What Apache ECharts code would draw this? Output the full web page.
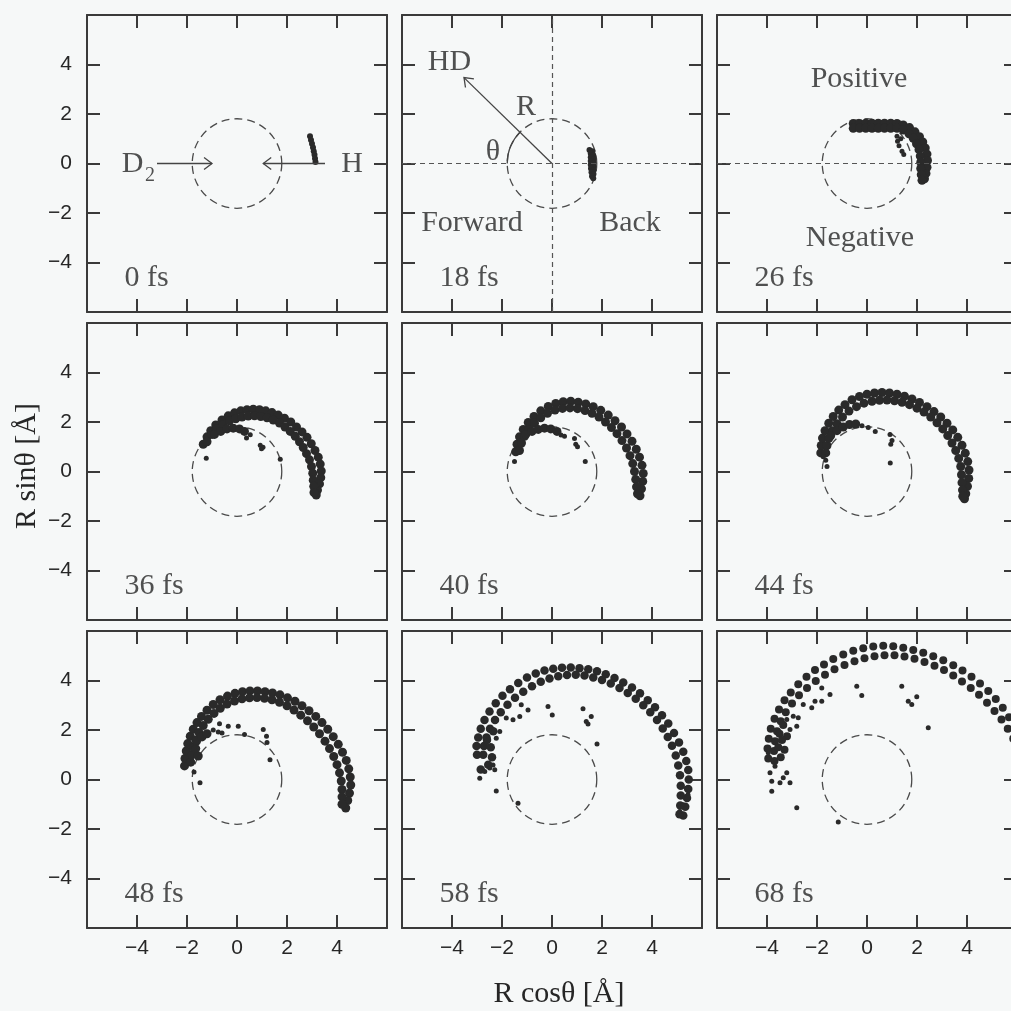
<!DOCTYPE html>
<html>
<head>
<meta charset="utf-8">
<script src="https://cdn.jsdelivr.net/npm/echarts@6/dist/echarts.min.js"></script>
<style>
html,body{margin:0;padding:0;background:#f6f8f8;}
#chart{width:1011px;height:1011px;}
</style>
</head>
<body>
<div id="chart"></div>
<script>
// ---------------- data ----------------
const panelLabels = ['0 fs','18 fs','26 fs','36 fs','40 fs','44 fs','48 fs','58 fs','68 fs'];
const axisMin = -6, axisMax = 6, axisStep = 2;
const tickLabels = {'-4':'\u22124','-2':'\u22122','0':'0','2':'2','4':'4'};
const circleR = 1.8;
const thetaArc = [135, 180]; // degrees, angle mark in the 18 fs panel

const band_0 = [[2.92,1.1],[2.96,0.95],[3.0,0.8],[3.04,0.65],[3.07,0.5],[3.1,0.35],[3.12,0.2],[3.14,0.06]];
const band_18 = [[1.5,0.55],[1.62,0.5],[1.55,0.4],[1.65,0.33],[1.55,0.25],[1.66,0.18],[1.55,0.1],[1.66,0.03],[1.55,-0.05],[1.66,-0.12],[1.56,-0.2],[1.66,-0.27],[1.58,-0.35],[1.66,-0.42],[1.6,-0.52],[1.65,-0.6]];

const band_26 = [[-0.55,1.62],[-0.3,1.62],[-0.05,1.63],[0.2,1.63],[0.45,1.63],[0.7,1.63],[0.95,1.63],
 [-0.55,1.42],[-0.3,1.42],[-0.05,1.42],[0.2,1.42],[0.45,1.42],[0.7,1.42],[0.95,1.42],
 [1.2,1.62],[1.45,1.56],[1.7,1.45],[1.92,1.28],[2.1,1.08],[2.23,0.87],[2.33,0.63],[2.4,0.38],[2.42,0.12],[2.4,-0.15],[2.36,-0.4],[2.3,-0.62],
 [1.2,1.42],[1.45,1.35],[1.68,1.2],[1.85,1.02],[1.98,0.8],[2.08,0.56],[2.13,0.3],[2.15,0.05],[2.15,-0.2],[2.17,-0.45],[2.2,-0.68]];
const sparse_26 = [[1.2,1.1],[1.22,0.9],[1.28,0.72],[1.4,0.5],[1.47,0.36],[1.35,1.0]];

const band_36 = [[-1.35,1.1],[-1.2,1.4],[-1.05,1.65],[-0.85,1.88],[-0.6,2.08],[-0.35,2.25],[-0.1,2.37],[0.15,2.45],[0.4,2.5],[0.65,2.52],[0.9,2.5],[1.15,2.45],[1.4,2.38],[1.65,2.28],[1.9,2.15],[2.15,2.0],[2.38,1.8],[2.6,1.6],[2.8,1.38],[2.97,1.12],[3.12,0.85],[3.25,0.58],[3.33,0.3],[3.37,0.02],[3.35,-0.25],[3.3,-0.5],[3.22,-0.75],[3.17,-0.95],
 [-1.2,1.2],[-1.0,1.5],[-0.8,1.72],[-0.55,1.9],[-0.3,2.05],[-0.05,2.13],[0.2,2.2],[0.45,2.24],[0.7,2.25],[0.95,2.22],[1.2,2.17],[1.45,2.08],[1.7,1.96],[1.92,1.8],[2.13,1.62],[2.33,1.42],[2.5,1.2],[2.65,0.97],[2.78,0.72],[2.9,0.47],[2.98,0.2],[3.03,-0.07],[3.05,-0.35],[3.07,-0.6],[3.08,-0.85],
 [-0.9,1.5],[-0.65,1.62],[-0.4,1.72],[-0.15,1.75],[0.1,1.72],[0.3,1.62]];
const sparse_36 = [[0.53,1.48],[0.38,1.35],[0.93,1.06],[1.04,0.98],[0.98,0.92],[1.73,0.5],[-1.23,0.54]];

const band_40 = [[-1.45,0.8],[-1.4,1.1],[-1.3,1.4],[-1.15,1.7],[-0.95,1.98],[-0.72,2.22],[-0.45,2.45],[-0.15,2.63],[0.15,2.75],[0.45,2.82],[0.75,2.84],[1.05,2.8],[1.35,2.73],[1.65,2.62],[1.95,2.47],[2.25,2.28],[2.52,2.05],[2.78,1.8],[3.0,1.52],[3.2,1.22],[3.37,0.9],[3.5,0.58],[3.6,0.25],[3.65,-0.08],[3.63,-0.4],[3.58,-0.7],[3.52,-0.98],
 [-1.3,0.85],[-1.22,1.15],[-1.1,1.42],[-0.92,1.7],[-0.7,1.95],[-0.45,2.17],[-0.18,2.35],[0.12,2.48],[0.42,2.55],[0.72,2.57],[1.02,2.54],[1.32,2.46],[1.6,2.35],[1.88,2.2],[2.14,2.0],[2.38,1.78],[2.6,1.53],[2.8,1.25],[2.98,0.95],[3.12,0.64],[3.23,0.32],[3.3,0.0],[3.35,-0.32],[3.38,-0.62],[3.42,-0.9],
 [-1.05,1.5],[-0.8,1.62],[-0.55,1.7],[-0.3,1.75],[-0.05,1.72],[0.2,1.62]];
const sparse_40 = [[0.36,1.47],[0.5,1.42],[0.9,1.33],[0.95,1.1],[1.02,1.0],[-1.5,0.4],[1.33,0.4]];

const band_44 = [[-1.85,0.75],[-1.83,1.05],[-1.78,1.35],[-1.68,1.65],[-1.53,1.95],[-1.35,2.22],[-1.13,2.48],[-0.88,2.7],[-0.6,2.9],[-0.3,3.03],[0.0,3.12],[0.3,3.17],[0.6,3.19],[0.9,3.17],[1.2,3.12],[1.5,3.04],[1.8,2.93],[2.1,2.79],[2.4,2.62],[2.68,2.42],[2.95,2.2],[3.2,1.95],[3.43,1.68],[3.63,1.38],[3.8,1.06],[3.93,0.74],[4.03,0.4],[4.08,0.06],[4.07,-0.28],[4.02,-0.6],[3.95,-0.9],[3.9,-1.1],
 [-1.65,0.75],[-1.6,1.05],[-1.52,1.35],[-1.38,1.65],[-1.2,1.93],[-0.98,2.2],[-0.72,2.44],[-0.42,2.62],[-0.12,2.76],[0.2,2.84],[0.5,2.88],[0.8,2.89],[1.1,2.86],[1.4,2.8],[1.7,2.7],[2.0,2.56],[2.28,2.4],[2.55,2.2],[2.8,1.97],[3.03,1.72],[3.23,1.45],[3.4,1.15],[3.55,0.85],[3.67,0.53],[3.75,0.2],[3.78,-0.13],[3.8,-0.45],[3.82,-0.75],[3.83,-1.0],
 [-1.45,1.45],[-1.2,1.65],[-0.95,1.8],[-0.7,1.9],[-0.45,1.92]];
const sparse_44 = [[-0.2,1.85],[0.05,1.78],[0.33,1.62],[0.92,1.5],[1.0,1.25],[0.95,1.1],[0.93,0.34],[-1.65,0.45],[-1.6,0.2],[-1.75,0.6]];

const band_48 = [[-2.1,0.55],[-2.08,0.85],[-2.03,1.15],[-1.97,1.45],[-1.87,1.75],[-1.75,2.03],[-1.6,2.3],[-1.42,2.55],[-1.2,2.8],[-0.95,3.03],[-0.68,3.22],[-0.38,3.37],[-0.08,3.48],[0.22,3.55],[0.52,3.58],[0.82,3.58],[1.12,3.55],[1.42,3.5],[1.72,3.42],[2.02,3.3],[2.32,3.16],[2.6,2.98],[2.88,2.78],[3.15,2.55],[3.4,2.3],[3.63,2.03],[3.85,1.73],[4.05,1.42],[4.22,1.1],[4.37,0.77],[4.47,0.43],[4.53,0.1],[4.55,-0.22],[4.5,-0.55],[4.43,-0.85],[4.35,-1.15],
 [-1.85,0.7],[-1.8,1.0],[-1.75,1.3],[-1.65,1.6],[-1.52,1.9],[-1.35,2.18],[-1.15,2.43],[-0.92,2.67],[-0.67,2.88],[-0.4,3.05],[-0.1,3.17],[0.2,3.26],[0.5,3.3],[0.8,3.31],[1.1,3.28],[1.4,3.22],[1.7,3.12],[2.0,2.98],[2.28,2.81],[2.55,2.6],[2.82,2.37],[3.07,2.12],[3.3,1.85],[3.52,1.55],[3.7,1.25],[3.87,0.93],[4.0,0.6],[4.1,0.27],[4.17,-0.06],[4.2,-0.4],[4.2,-0.7],[4.2,-1.0],
 [-1.62,1.55],[-1.4,1.72],[-1.2,1.85],[-1.65,1.25],[-1.55,0.95]];
const sparse_48 = [[-0.95,2.0],[-0.75,1.92],[-0.7,2.25],[-0.6,1.88],[-0.35,2.15],[0.05,2.15],[0.3,1.82],[1.05,2.02],[1.18,1.75],[1.2,1.5],[1.32,0.8],[-1.72,0.3],[-1.48,-0.13]];

const band_58 = [[-3.0,1.0],[-3.02,1.35],[-2.95,1.7],[-2.85,2.05],[-2.7,2.4],[-2.5,2.75],[-2.25,3.08],[-1.98,3.38],[-1.68,3.65],[-1.35,3.9],[-1.0,4.12],[-0.65,4.28],[-0.3,4.4],[0.05,4.47],[0.4,4.52],[0.75,4.53],[1.1,4.5],[1.45,4.45],[1.8,4.37],[2.15,4.25],[2.5,4.1],[2.85,3.92],[3.2,3.72],[3.52,3.48],[3.83,3.2],[4.12,2.92],[4.4,2.6],[4.65,2.26],[4.88,1.88],[5.08,1.5],[5.25,1.12],[5.37,0.75],[5.45,0.38],[5.47,0.0],[5.45,-0.38],[5.4,-0.75],[5.33,-1.1],[5.25,-1.45],
 [-2.75,1.0],[-2.72,1.35],[-2.62,1.7],[-2.48,2.05],[-2.28,2.4],[-2.05,2.72],[-1.78,3.02],[-1.48,3.3],[-1.15,3.55],[-0.8,3.77],[-0.45,3.95],[-0.1,4.08],[0.25,4.17],[0.6,4.22],[0.95,4.23],[1.3,4.2],[1.65,4.12],[2.0,4.02],[2.35,3.88],[2.7,3.7],[3.03,3.5],[3.35,3.26],[3.65,3.0],[3.93,2.72],[4.2,2.4],[4.43,2.06],[4.63,1.72],[4.8,1.36],[4.95,0.97],[5.05,0.57],[5.12,0.17],[5.15,-0.25],[5.15,-0.65],[5.13,-1.05],[5.1,-1.4],
 [-2.45,1.3],[-2.4,0.9],[-2.55,0.6],[-2.85,0.4],[-2.6,1.6],[-2.35,1.95]];
const sparse_58 = [[-2.49,2.07],[-2.23,1.67],[-2.09,1.94],[-2.36,0.59],[-2.49,0.46],[-2.69,0.32],[-2.29,0.39],[-2.89,0.05],[-2.23,-0.46],[-1.36,-0.96],
 [5.37,-0.35],[5.44,-0.62],[5.24,-1.02],[5.11,-1.29],
 [-1.83,2.48],[-1.56,2.41],[-1.29,2.55],[-1.23,3.02],[-0.96,2.81],[-0.16,2.95],[0.01,2.61],[1.24,2.86],[1.57,2.55],[1.37,2.34],[1.44,2.24],[1.8,1.43]];

const band_68 = [[-3.95,0.85],[-3.98,1.25],[-3.93,1.65],[-3.85,2.05],[-3.7,2.45],[-3.52,2.83],[-3.3,3.2],[-3.05,3.52],[-2.75,3.85],[-2.42,4.15],[-2.08,4.42],[-1.72,4.65],[-1.35,4.87],[-0.95,5.05],[-0.55,5.2],[-0.15,5.3],[0.25,5.37],[0.65,5.4],[1.05,5.38],[1.45,5.32],[1.85,5.23],[2.25,5.12],[2.65,4.98],[3.05,4.82],[3.45,4.62],[3.82,4.4],[4.18,4.15],[4.52,3.88],[4.85,3.58],[5.15,3.25],[5.43,2.9],[5.68,2.52],[5.9,2.12],
 [-3.7,0.75],[-3.72,1.15],[-3.68,1.55],[-3.6,1.95],[-3.45,2.35],[-3.25,2.72],[-3.0,3.07],[-2.72,3.4],[-2.4,3.7],[-2.05,3.98],[-1.68,4.23],[-1.3,4.45],[-0.9,4.63],[-0.5,4.78],[-0.1,4.9],[0.3,4.98],[0.7,5.02],[1.1,5.02],[1.5,4.97],[1.9,4.88],[2.3,4.75],[2.7,4.6],[3.08,4.42],[3.45,4.2],[3.8,3.96],[4.15,3.7],[4.48,3.42],[4.8,3.1],[5.1,2.77],[5.38,2.42],[5.63,2.05],[5.85,1.65],
 [-3.35,2.2],[-3.5,1.85],[-3.2,1.75],[-3.55,1.3],[-3.4,1.6],[-3.3,1.2],[-3.45,0.9]];
const sparse_68 = [[-3.81,-0.47],[-2.81,-1.14],[-1.15,-1.72],[-3.81,-0.07],[-3.48,-0.13],[-3.35,0.07],[-3.08,-0.13],[-3.21,0.27],[-3.88,0.27],[-3.68,0.54],[-3.95,1.08],[-3.08,2.02],[-2.81,2.15],[-2.95,2.56],[-3.21,2.42],[-2.75,2.49],
 [-2.55,3.03],[-2.21,2.9],[-2.08,3.16],[-1.81,3.7],[-1.81,3.16],[-1.48,3.43],[-0.41,3.77],[-0.21,3.39],[1.39,3.77],[1.65,3.16],[1.79,3.03],[1.99,3.34],[2.45,2.09]];

const bands = [band_0, band_18, band_26, band_36, band_40, band_44, band_48, band_58, band_68];
const sparses = [[], [], sparse_26, sparse_36, sparse_40, sparse_44, sparse_48, sparse_58, sparse_68];

// annotations: [x, y, text]
const notes_0 = [[-4.18,-0.04,'D'],[4.6,-0.04,'H']];
const notesSub_0 = [[-3.48,-0.5,'2']];
const notes_1 = [[-4.1,4.08,'HD'],[-1.04,2.26,'R'],[-2.36,0.44,'\u03b8'],[-3.2,-2.42,'Forward'],[3.12,-2.42,'Back']];
const notes_2 = [[-0.32,3.42,'Positive'],[-0.28,-3.0,'Negative']];
const notes = [notes_0, notes_1, notes_2, [], [], [], [], [], []];
const labelPos = [-4.52, -4.62];
// arrows: [x1, y1, x2(tip), y2(tip)]
const arrows_0 = [[-3.2,0,-1.0,0],[3.52,0,1.05,0]];
const arrows_1 = [[0,0,-3.52,3.47]];

// ---------------- layout / style ----------------
const INK = '#262626';
const LINE = '#3a3a3a';
const DOT = '#2a2a2a';
const colLeft = [87, 402, 717];
const rowTop = [15, 323, 631];
const panelW = 300, panelH = 297;
const serif = '"Liberation Serif","Times New Roman",serif';
const sans = '"Liberation Sans",Arial,sans-serif';
const bandSize = [6, 6, 9, 9, 9, 9, 9, 8.5, 8];

const grids = [], xAxes = [], yAxes = [], series = [];
function fmt(v){ const k = String(v); return (k in tickLabels) ? tickLabels[k] : ''; }

for (let i = 0; i < 9; i++) {
  const r = Math.floor(i / 3), c = i % 3;
  grids.push({left: colLeft[c], top: rowTop[r], width: panelW, height: panelH, show: false,
    containLabel: false, outerBoundsMode: 'none'});
  const base = {
    gridIndex: i, type: 'value', min: axisMin, max: axisMax, interval: axisStep,
    splitLine: {show: false},
    axisLine: {show: true, onZero: false, lineStyle: {color: LINE, width: 2}},
    axisTick: {show: true, inside: true, length: 13, lineStyle: {color: LINE, width: 2}}
  };
  xAxes.push(Object.assign({}, base, {position: 'bottom',
    axisLabel: {show: r === 2, formatter: fmt, fontSize: 21, color: INK, fontFamily: sans, margin: 10}}));
  xAxes.push(Object.assign({}, base, {position: 'top', axisLabel: {show: false}}));
  yAxes.push(Object.assign({}, base, {position: 'left',
    axisLabel: {show: c === 0, formatter: fmt, fontSize: 21, color: INK, fontFamily: sans, margin: 15}}));
  yAxes.push(Object.assign({}, base, {position: 'right', axisLabel: {show: false}}));

  const ax = {xAxisIndex: 2 * i, yAxisIndex: 2 * i};

  // dashed circle
  series.push(Object.assign({
    type: 'custom', silent: true, z: 2,
    data: [[0, 0, circleR]],
    encode: {x: 0, y: 1},
    renderItem: function (params, api) {
      const p = api.coord([api.value(0), api.value(1)]);
      const s = api.size([api.value(2), api.value(2)]);
      const rr = (s[0] + s[1]) / 2;
      const children = [{type: 'circle', shape: {cx: p[0], cy: p[1], r: rr},
        style: {stroke: '#4a4a4a', fill: 'transparent', lineWidth: 1.3, lineDash: [8, 5]}}];
      if (i === 1) {
        children.push({type: 'arc', shape: {cx: p[0], cy: p[1], r: rr,
          startAngle: -thetaArc[1] * Math.PI / 180, endAngle: -thetaArc[0] * Math.PI / 180, clockwise: true},
          style: {stroke: '#444', fill: null, lineWidth: 1.3}});
      }
      return {type: 'group', children: children};
    }
  }, ax));

  // band points
  series.push(Object.assign({
    type: 'scatter', silent: true, z: 3,
    symbolSize: bandSize[i],
    itemStyle: {color: DOT, opacity: 1},
    data: bands[i]
  }, ax));
  if (sparses[i].length) {
    series.push(Object.assign({
      type: 'scatter', silent: true, z: 3, symbolSize: 5,
      itemStyle: {color: DOT, opacity: 1},
      data: sparses[i]
    }, ax));
  }

  // text annotations + panel label (+ crosshair lines)
  const txt = notes[i].map(n => ({value: [n[0], n[1]], name: n[2]}));
  const txtSeries = Object.assign({
    type: 'scatter', silent: true, z: 5, symbolSize: 1,
    itemStyle: {color: 'rgba(0,0,0,0)'},
    label: {show: true, position: 'inside', formatter: '{b}', fontFamily: serif, fontSize: 30, color: INK},
    data: txt
  }, ax);
  if (i === 1 || i === 2) {
    txtSeries.markLine = {
      silent: true, symbol: 'none', animation: false,
      label: {show: false},
      lineStyle: {type: [5, 4], color: '#555', width: 1.2},
      data: i === 1 ? [{yAxis: 0}, {xAxis: 0}] : [{yAxis: 0}]
    };
  }
  series.push(txtSeries);
  series.push(Object.assign({
    type: 'scatter', silent: true, z: 5, symbolSize: 1,
    itemStyle: {color: 'rgba(0,0,0,0)'},
    label: {show: true, position: 'right', distance: 0, formatter: '{b}', fontFamily: serif, fontSize: 30, color: INK},
    data: [{value: labelPos, name: panelLabels[i]}]
  }, ax));
}

// subscript of D2
series.push({
  type: 'scatter', silent: true, z: 5, symbolSize: 1, xAxisIndex: 0, yAxisIndex: 0,
  itemStyle: {color: 'rgba(0,0,0,0)'},
  label: {show: true, position: 'inside', formatter: '{b}', fontFamily: serif, fontSize: 20, color: INK},
  data: notesSub_0.map(n => ({value: [n[0], n[1]], name: n[2]}))
});

// arrows
function arrowItem(params, api) {
  const a = api.coord([api.value(0), api.value(1)]);
  const b = api.coord([api.value(2), api.value(3)]);
  const ang = Math.atan2(b[1] - a[1], b[0] - a[0]);
  const L = 10, w = 0.65;
  const p1 = [b[0] - L * Math.cos(ang - w), b[1] - L * Math.sin(ang - w)];
  const p2 = [b[0] - L * Math.cos(ang + w), b[1] - L * Math.sin(ang + w)];
  return {type: 'group', children: [
    {type: 'line', shape: {x1: a[0], y1: a[1], x2: b[0], y2: b[1]}, style: {stroke: '#444', lineWidth: 1.3}},
    {type: 'polyline', shape: {points: [p1, b, p2]}, style: {stroke: '#444', lineWidth: 1.3, fill: null}}
  ]};
}
series.push({type: 'custom', silent: true, z: 4, xAxisIndex: 0, yAxisIndex: 0, encode: {x: [0, 2], y: [1, 3]}, data: arrows_0, renderItem: arrowItem});
series.push({type: 'custom', silent: true, z: 4, xAxisIndex: 2, yAxisIndex: 2, encode: {x: [0, 2], y: [1, 3]}, data: arrows_1, renderItem: arrowItem});

const chart = echarts.init(document.getElementById('chart'), null, {renderer: 'canvas'});
chart.setOption({
  backgroundColor: '#f6f8f8',
  animation: false,
  grid: grids,
  xAxis: xAxes,
  yAxis: yAxes,
  series: series,
  graphic: [
    {type: 'text', x: 27, y: 466, rotation: Math.PI / 2,
      style: {text: 'R sin\u03b8 [\u00c5]', font: '30px ' + serif, fill: INK, align: 'center', verticalAlign: 'middle'}},
    {type: 'text', x: 559, y: 994,
      style: {text: 'R cos\u03b8 [\u00c5]', font: '30px ' + serif, fill: INK, align: 'center', verticalAlign: 'middle'}}
  ]
});
</script>
</body>
</html>
